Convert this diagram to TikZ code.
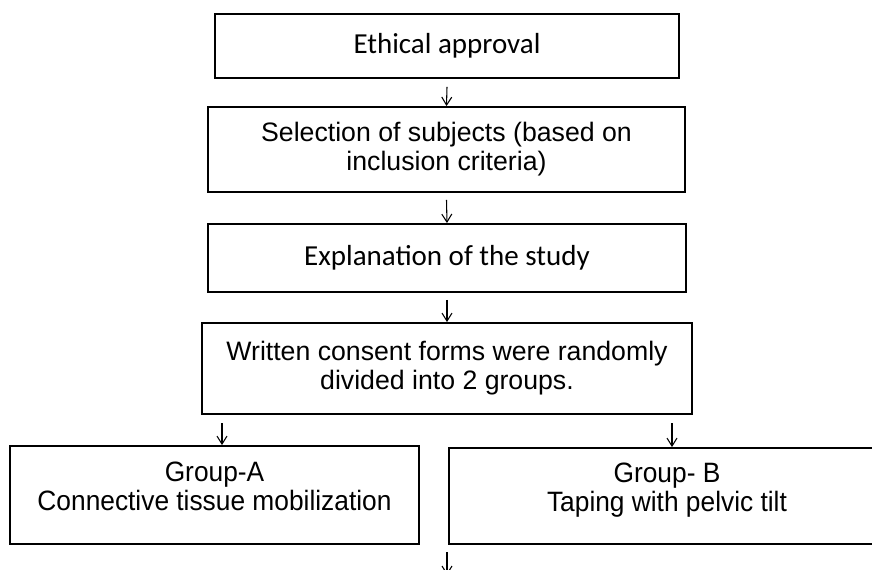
\documentclass[tikz,border=0pt]{standalone}
\usepackage{fontspec}
\usetikzlibrary{arrows.meta}
\newfontfamily\calibrifont{Carlito}
\newfontfamily\arialfont{Liberation Sans}
\newfontfamily\narrowfont[FakeStretch=0.94]{Liberation Sans}
\tikzset{
  stepbox/.style={draw=black, line width=1.4pt, inner sep=0pt, align=center},
  calibritext/.style={font=\calibrifont\fontsize{21.75}{26}\selectfont},
  arialtext/.style={font=\arialfont\fontsize{20}{21.75}\selectfont},
  grouptext/.style={font=\narrowfont\fontsize{21}{22}\selectfont},
  flowarrow/.style={line width=0.8pt, -{Straight Barb[length=6pt,width=7.5pt]}}
}
\begin{document}
\begin{tikzpicture}[x=0.75pt,y=-0.75pt]
%%% page frame, 872 x 569 px
\clip (0,0) rectangle (872,569);
\fill[white] (0,0) rectangle (872,569);
%%% the boxes of the main column
\node[stepbox, calibritext, minimum width=348pt, minimum height=48pt] (ethics) at (447,46)
  {Ethical approval};
\node[stepbox, arialtext, minimum width=357.75pt, minimum height=63.75pt] (selection) at (446.5,149.5)
  {Selection of subjects (based on\\ inclusion criteria)};
\node[stepbox, calibritext, minimum width=358.5pt, minimum height=51pt] (explain) at (447,258)
  {Explanation of the study};
\node[stepbox, arialtext, minimum width=367.5pt, minimum height=68.25pt] (consent) at (447,368.5)
  {Written consent forms were randomly\\ divided into 2 groups.};
%
\node[stepbox, grouptext, minimum width=306.75pt, minimum height=73.5pt] (groupA) at (214.5,495)
  {Group-A\\ Connective tissue mobilization\rule[-13pt]{0pt}{0pt}};
\node[stepbox, grouptext, minimum width=327pt, minimum height=72pt] (groupB) at (667,496)
  {Group- B\\ Taping with pelvic tilt\rule[-13pt]{0pt}{0pt}};
%%% arrows between the steps
\draw[flowarrow] ([yshift=-6pt]ethics.south) -- (selection.north);
\draw[flowarrow] ([yshift=-5.25pt]selection.south) -- (explain.north);
\draw[flowarrow] ([yshift=-5.25pt]explain.south) -- (consent.north);
\coordinate (splitA) at (222,423);
\coordinate (splitB) at (672,423);
\draw[flowarrow] (splitA) -- (splitA |- groupA.north);
\draw[flowarrow] (splitB) -- (splitB |- groupB.north);
%%% arrow leaving the page
\coordinate (outTop) at (447,552);
\coordinate (outEnd) at (447,575);
\draw[flowarrow] (outTop) -- (outEnd);
\end{tikzpicture}
\end{document}
